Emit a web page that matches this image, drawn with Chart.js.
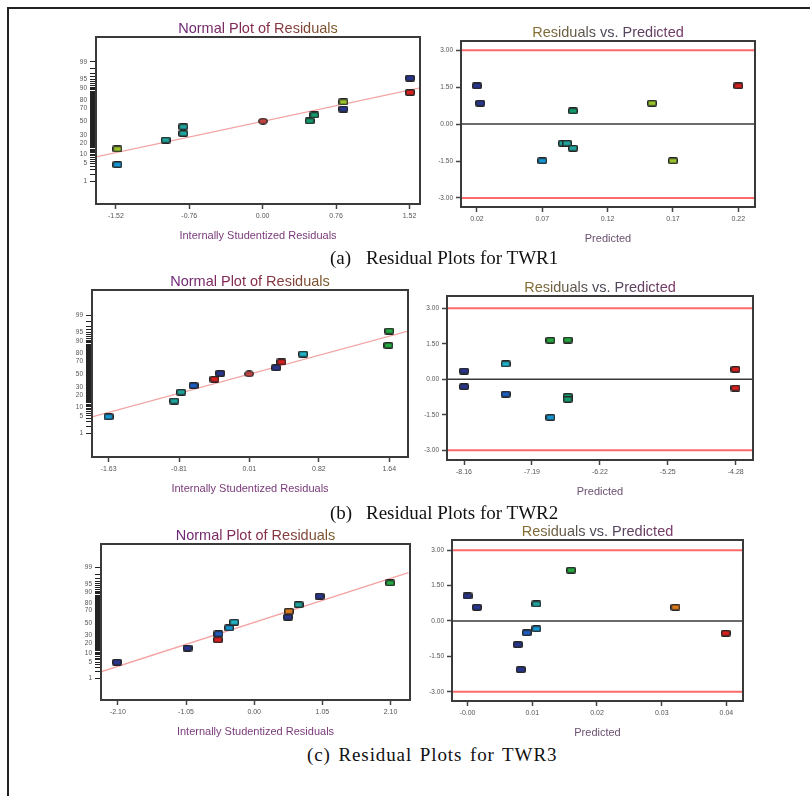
<!DOCTYPE html>
<html>
<head>
<meta charset="utf-8">
<script src="https://cdn.jsdelivr.net/npm/chart.js@4.4.0/dist/chart.umd.min.js"></script>
<style>
  html, body { margin: 0; padding: 0; background: #fff; }
  body { width: 810px; height: 796px; position: relative; overflow: hidden; }
  .frame { position: absolute; left: 7px; top: 7px; width: 900px; height: 900px; border-left: 2px solid #222; border-top: 2px solid #222; }
  canvas { position: absolute; }
  .cap { position: absolute; font-family: "Liberation Serif", "Times New Roman", serif; font-size: 19px; color: #111; white-space: pre; line-height: 20px; }
</style>
</head>
<body>
<div class="frame"></div>
<canvas id="a-normal"></canvas>
<canvas id="a-pred"></canvas>
<canvas id="b-normal"></canvas>
<canvas id="b-pred"></canvas>
<canvas id="c-normal"></canvas>
<canvas id="c-pred"></canvas>
<div class="cap" style="left:330px;top:248px">(a)</div>
<div class="cap" style="left:366px;top:248px">Residual Plots for TWR1</div>
<div class="cap" style="left:330px;top:503px">(b)</div>
<div class="cap" style="left:366px;top:503px">Residual Plots for TWR2</div>
<div class="cap" style="left:307px;top:745px;letter-spacing:0.9px;word-spacing:2px">(c) Residual Plots for TWR3</div>
<script>
// ---- datos ----
const PCT_MAJOR = [1, 5, 10, 20, 30, 50, 70, 80, 90, 95, 99];
const PCT_MINOR = Array.from({ length: 99 }, (_, i) => i + 1);
const RESID_LIMITS = [3, -3];
const RESID_TICKS = [-3, -1.5, 0, 1.5, 3];

// (a) TWR1
const A_RES = [-1.505, -1.505, -1.004, -0.822, -0.822, 0.003, 0.487, 0.535, 0.835, 0.835, 1.526, 1.526];
const A_PCT = [4.6, 14.2, 23.3, 31.9, 41.7, 50.4, 50.8, 59.9, 68.4, 77.6, 87.1, 95.4];
const A_FIT_X = [-1.73, 1.63];
const A_FIT_PCT = [8.3, 90.5];
const A_RES_TICKS = [-1.52, -0.76, 0, 0.76, 1.52];
const A_PRED = [0.020, 0.0225, 0.070, 0.0858, 0.0889, 0.0935, 0.0935, 0.154, 0.170, 0.220];
const A_PRED_RES = [1.56, 0.85, -1.49, -0.78, -0.78, -0.98, 0.54, 0.85, -1.49, 1.56];
const A_PRED_TICKS = [0.02, 0.07, 0.12, 0.17, 0.22];

// (b) TWR2
const B_RES = [-1.631, -0.866, -0.785, -0.641, -0.397, -0.331, 0.007, 0.321, 0.383, 0.636, 1.629, 1.640];
const B_PCT = [4.7, 14.5, 23.9, 32.6, 42.1, 51.2, 50.4, 59.9, 68.4, 78.5, 87.1, 95.5];
const B_FIT_X = [-1.824, 1.862];
const B_FIT_PCT = [4.6, 95.5];
const B_RES_TICKS = [-1.63, -0.81, 0.01, 0.82, 1.64];
const B_PRED = [-8.16, -8.16, -7.564, -7.564, -6.926, -6.926, -6.679, -6.679, -6.679, -4.283, -4.283];
const B_PRED_RES = [0.35, -0.31, 0.65, -0.63, 1.65, -1.61, 1.66, -0.72, -0.85, 0.42, -0.37];
const B_PRED_TICKS = [-8.16, -7.19, -6.22, -5.25, -4.28];

// (c) TWR3
const C_RES = [-2.114, -1.027, -0.559, -0.550, -0.385, -0.308, 0.519, 0.534, 0.683, 1.006, 2.094];
const C_PCT = [4.9, 14.5, 23.9, 32.3, 41.7, 51.2, 59.5, 68.8, 77.9, 86.9, 95.4];
const C_FIT_X = [-2.36, 2.376];
const C_FIT_PCT = [2.0, 98.3];
const C_RES_TICKS = [-2.10, -1.05, 0, 1.05, 2.10];
const C_PRED = [0.0000, 0.00145, 0.00777, 0.00823, 0.00916, 0.01064, 0.01064, 0.0160, 0.03213, 0.0399];
const C_PRED_RES = [1.06, 0.58, -1.00, -2.06, -0.50, -0.33, 0.72, 2.15, 0.58, -0.52];
const C_PRED_TICKS = [0, 0.01, 0.02, 0.03, 0.04];
const C_PRED_LABELS = ['-0.00', '0.01', '0.02', '0.03', '0.04'];

// ---- estilo ----
const COL = {
  navy: '#27358f', blue: '#1d5cc0', sky: '#1596d2', cyan: '#1fb3c8', teal: '#1fa49c',
  sea: '#129a6c', green: '#25a83f', lime: '#98c22c', orange: '#d97a1c', red: '#d81e1e', brick: '#c0443f',
};
const A_COLORS = ['sky', 'lime', 'teal', 'teal', 'teal', 'brick', 'sea', 'sea', 'navy', 'lime', 'red', 'navy'];
const A_PRED_COLORS = ['navy', 'navy', 'sky', 'teal', 'teal', 'teal', 'sea', 'lime', 'lime', 'red'];
const B_COLORS = ['sky', 'teal', 'teal', 'blue', 'red', 'navy', 'brick', 'navy', 'red', 'cyan', 'green', 'green'];
const B_PRED_COLORS = ['navy', 'navy', 'cyan', 'blue', 'green', 'sky', 'green', 'sea', 'sea', 'red', 'red'];
const C_COLORS = ['navy', 'navy', 'red', 'blue', 'sky', 'cyan', 'navy', 'orange', 'teal', 'navy', 'green'];
const C_PRED_COLORS = ['navy', 'navy', 'navy', 'navy', 'blue', 'sky', 'teal', 'green', 'orange', 'red'];
const CENTER_POINT = 'brick';

const SANS = '"Liberation Sans", Arial, sans-serif';
const YW = 42, TH = 24, RW = 12, XH = 42;

// probit (Acklam) para el eje de probabilidad normal
function probit(pct) {
  const p = pct / 100;
  const a = [-39.69683028665376, 220.9460984245205, -275.9285104469687, 138.3577518672690, -30.66479806614716, 2.506628277459239];
  const b = [-54.47609879822406, 161.5858368580409, -155.6989798598866, 66.80131188771972, -13.28068155288572];
  const c = [-0.007784894002430293, -0.3223964580411365, -2.400758277161838, -2.549732539343734, 4.374664141464968, 2.938163982698783];
  const d = [0.007784695709041462, 0.3224671290700398, 2.445134137142996, 3.754408661907416];
  const lo = 0.02425;
  if (p < lo) {
    const q = Math.sqrt(-2 * Math.log(p));
    return (((((c[0] * q + c[1]) * q + c[2]) * q + c[3]) * q + c[4]) * q + c[5]) / ((((d[0] * q + d[1]) * q + d[2]) * q + d[3]) * q + 1);
  }
  if (p > 1 - lo) {
    const q = Math.sqrt(-2 * Math.log(1 - p));
    return -(((((c[0] * q + c[1]) * q + c[2]) * q + c[3]) * q + c[4]) * q + c[5]) / ((((d[0] * q + d[1]) * q + d[2]) * q + d[3]) * q + 1);
  }
  const q = p - 0.5, r = q * q;
  return (((((a[0] * r + a[1]) * r + a[2]) * r + a[3]) * r + a[4]) * r + a[5]) * q / (((((b[0] * r + b[1]) * r + b[2]) * r + b[3]) * r + b[4]) * r + 1);
}

const markerCache = {};
function marker(key) {
  if (markerCache[key]) return markerCache[key];
  const c = document.createElement('canvas');
  c.width = 10; c.height = 7;
  const g = c.getContext('2d');
  g.fillStyle = '#262626';
  g.beginPath();
  if (key === CENTER_POINT + '-round') {
    g.ellipse(5, 3.5, 5, 3.5, 0, 0, Math.PI * 2);
    g.fill();
    g.fillStyle = COL[CENTER_POINT];
    g.beginPath();
    g.ellipse(5, 3.5, 3.6, 2.2, 0, 0, Math.PI * 2);
    g.fill();
  } else {
    g.roundRect(0, 0, 10, 7, 2);
    g.fill();
    g.fillStyle = COL[key];
    g.fillRect(1.5, 1.5, 7, 4);
  }
  markerCache[key] = c;
  return c;
}

const framePlugin = {
  id: 'frame',
  afterDatasetsDraw(chart) {
    const { ctx, chartArea: a } = chart;
    ctx.save();
    ctx.strokeStyle = '#3a3a3a';
    ctx.lineWidth = 2;
    ctx.strokeRect(a.left, a.top, a.right - a.left, a.bottom - a.top);
    ctx.restore();
  },
};

const titlePlugin = {
  id: 'panelTitle',
  afterDraw(chart, args, opts) {
    const { ctx, chartArea: a } = chart;
    ctx.save();
    ctx.font = `14.5px ${SANS}`;
    const w = ctx.measureText(opts.text).width;
    const cx = (a.left + a.right) / 2 + (opts.shift || 0);
    const grad = ctx.createLinearGradient(cx - w / 2, 0, cx + w / 2, 0);
    opts.colors.forEach((c, i) => grad.addColorStop(i / (opts.colors.length - 1), c));
    ctx.fillStyle = grad;
    ctx.textAlign = 'center';
    ctx.textBaseline = 'bottom';
    ctx.fillText(opts.text, cx, a.top - 1);
    ctx.restore();
  },
};

function xScale(min, max, ticks, labels, title) {
  return {
    type: 'linear', min, max,
    afterBuildTicks: (s) => { s.ticks = ticks.map((v) => ({ value: v })); },
    afterFit: (s) => { s.height = XH; },
    grid: { drawOnChartArea: false, tickLength: 5, tickColor: '#444', tickWidth: 1.5 },
    border: { display: false },
    ticks: {
      autoSkip: false, maxRotation: 0, padding: 3, color: '#555',
      font: { size: 7, family: SANS },
      callback: (v, i) => labels[i],
    },
    title: {
      display: true, text: title, color: title === 'Predicted' ? '#6a5070' : '#7a3a7a',
      font: { size: 11, family: SANS }, padding: { top: 0, bottom: 3 },
    },
  };
}

function probScale(min, max) {
  return {
    type: 'linear', min, max,
    afterBuildTicks: (s) => { s.ticks = PCT_MINOR.map((p) => ({ value: probit(p) })); },
    afterFit: (s) => { s.width = YW; },
    grid: { drawOnChartArea: false, tickLength: 6, tickColor: '#222', tickWidth: 1 },
    border: { display: false },
    ticks: {
      autoSkip: false, padding: 3, color: '#555',
      font: { size: 6.5, family: SANS },
      callback: (v, i) => (PCT_MAJOR.includes(PCT_MINOR[i]) ? String(PCT_MINOR[i]) : ''),
    },
  };
}

function residScale(min, max) {
  return {
    type: 'linear', min, max,
    afterBuildTicks: (s) => { s.ticks = RESID_TICKS.map((v) => ({ value: v })); },
    afterFit: (s) => { s.width = YW; },
    grid: { drawOnChartArea: false, tickLength: 5, tickColor: '#444', tickWidth: 1.5 },
    border: { display: false },
    ticks: {
      autoSkip: false, padding: 3, color: '#555',
      font: { size: 6.5, family: SANS },
      callback: (v) => v.toFixed(2),
    },
  };
}

function pointsDataset(xs, ys, colors) {
  return {
    type: 'scatter',
    order: 0,
    data: xs.map((x, i) => ({ x, y: ys[i] })),
    pointStyle: colors.map((k) => marker(k === CENTER_POINT ? k + '-round' : k)),
    pointRadius: 4,
  };
}

function lineDataset(xs, ys, color, width) {
  return {
    type: 'scatter', showLine: true, order: 1,
    data: xs.map((x, i) => ({ x, y: ys[i] })),
    borderColor: color, borderWidth: width, pointRadius: 0,
  };
}

function panel(id, box, title, titleColors, datasets, scales) {
  const canvas = document.getElementById(id);
  canvas.width = box.R - box.L + YW + RW;
  canvas.height = box.B - box.T + TH + XH;
  canvas.style.left = (box.L - YW) + 'px';
  canvas.style.top = (box.T - TH) + 'px';
  return new Chart(canvas, {
    type: 'scatter',
    data: { datasets },
    options: {
      responsive: false, animation: false, devicePixelRatio: 1,
      layout: { padding: { top: TH, right: RW, left: 0, bottom: 0 } },
      plugins: {
        legend: { display: false }, tooltip: { enabled: false },
        panelTitle: { text: title, colors: titleColors },
      },
      scales,
    },
    plugins: [framePlugin, titlePlugin],
  });
}

function normalPanel(id, box, res, pct, colors, fitX, fitPct, xTicks, xMin, xMax, yMin, yMax) {
  return panel(id, box, 'Normal Plot of Residuals', ['#6a2a7a', '#8a2a4a', '#7a5a2a'], [
    pointsDataset(res, pct.map(probit), colors),
    lineDataset(fitX, fitPct.map(probit), '#f4a3a3', 1.3),
  ], {
    x: xScale(xMin, xMax, xTicks, xTicks.map((v) => v.toFixed(2)), 'Internally Studentized Residuals'),
    y: probScale(yMin, yMax),
  });
}

function predPanel(id, box, pred, res, colors, xTicks, labels, xMin, xMax, yMin, yMax) {
  const limits = RESID_LIMITS.map((v) => lineDataset([xMin, xMax], [v, v], '#ff6a6a', 2));
  return panel(id, box, 'Residuals vs. Predicted', ['#8a7030', '#4a4a5a', '#7a3a6a'], [
    pointsDataset(pred, res, colors),
    ...limits,
    lineDataset([xMin, xMax], [0, 0], '#3a3a3a', 1.5),
  ], {
    x: xScale(xMin, xMax, xTicks, labels, 'Predicted'),
    y: residScale(yMin, yMax),
  });
}

normalPanel('a-normal', { L: 96, T: 37, R: 420, B: 204 }, A_RES, A_PCT, A_COLORS, A_FIT_X, A_FIT_PCT, A_RES_TICKS, -1.726, 1.629, -3.22, 3.29);
predPanel('a-pred', { L: 461, T: 41, R: 755, B: 207 }, A_PRED, A_PRED_RES, A_PRED_COLORS, A_PRED_TICKS, A_PRED_TICKS.map((v) => v.toFixed(2)), 0.0078, 0.2328, -3.37, 3.38);

normalPanel('b-normal', { L: 92, T: 290, R: 408, B: 457 }, B_RES, B_PCT, B_COLORS, B_FIT_X, B_FIT_PCT, B_RES_TICKS, -1.824, 1.858, -3.26, 3.31);
predPanel('b-pred', { L: 447, T: 296, R: 753, B: 460 }, B_PRED, B_PRED_RES, B_PRED_COLORS, B_PRED_TICKS, B_PRED_TICKS.map((v) => v.toFixed(2)), -8.403, -4.033, -3.41, 3.52);

normalPanel('c-normal', { L: 101, T: 544, R: 410, B: 700 }, C_RES, C_PCT, C_COLORS, C_FIT_X, C_FIT_PCT, C_RES_TICKS, -2.36, 2.40, -3.24, 3.32);
predPanel('c-pred', { L: 452, T: 540, R: 743, B: 701 }, C_PRED, C_PRED_RES, C_PRED_COLORS, C_PRED_TICKS, C_PRED_LABELS, -0.0024, 0.04256, -3.39, 3.43);
</script>
</body>
</html>
